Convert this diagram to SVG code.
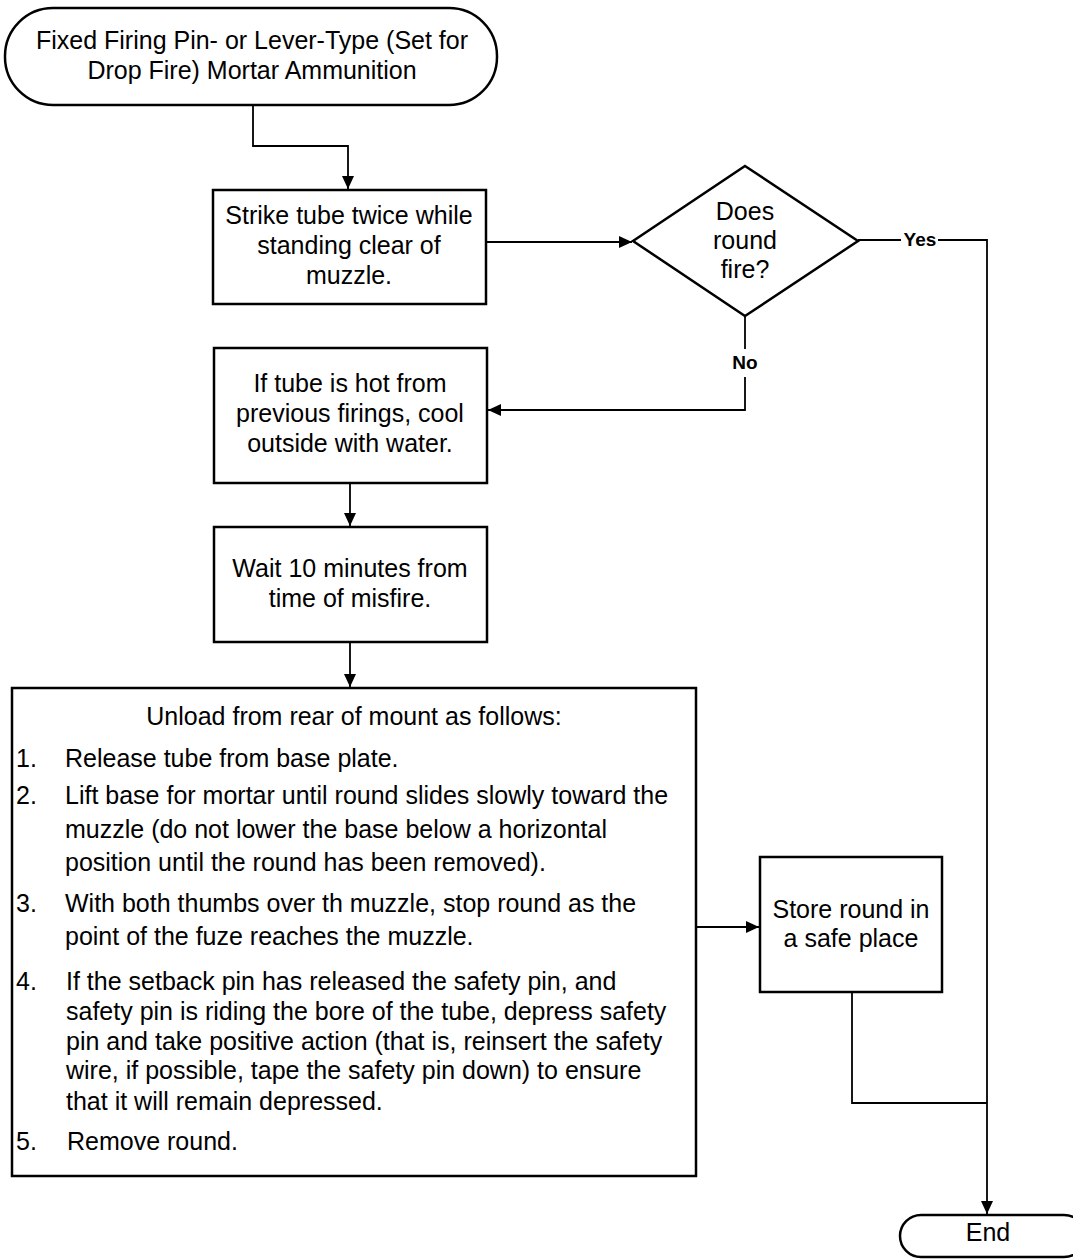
<svg xmlns="http://www.w3.org/2000/svg" width="1073" height="1259" viewBox="0 0 1073 1259">
<style>
.shape{fill:#fff;stroke:#000;stroke-width:2.5}
.conn{fill:none;stroke:#000;stroke-width:1.8}
.t{font-family:"Liberation Sans",Arial,sans-serif;font-size:25px;fill:#000;text-anchor:middle}
.l{font-family:"Liberation Sans",Arial,sans-serif;font-size:25px;fill:#000;text-anchor:start}
.lbl{font-family:"Liberation Sans",Arial,sans-serif;font-size:19px;font-weight:bold;fill:#000;text-anchor:middle}
</style>
<defs>
<marker id="arr" markerWidth="13" markerHeight="12" refX="13" refY="6" orient="auto" markerUnits="userSpaceOnUse">
<path d="M0,0 L13,6 L0,12 z" fill="#000"/>
</marker>
</defs>
<rect width="1073" height="1259" fill="#fff"/>

<g id="connectors">
<polyline class="conn" points="253,105 253,146 348,146 348,189" marker-end="url(#arr)"/>
<line class="conn" x1="486" y1="242" x2="632" y2="242" marker-end="url(#arr)"/>
<polyline class="conn" points="858,240 901,240"/>
<polyline class="conn" points="938,240 987,240 987,1214" marker-end="url(#arr)"/>
<line class="conn" x1="745" y1="316" x2="745" y2="349"/>
<polyline class="conn" points="745,377 745,410 488,410" marker-end="url(#arr)"/>
<line class="conn" x1="350" y1="483" x2="350" y2="526" marker-end="url(#arr)"/>
<line class="conn" x1="350" y1="642" x2="350" y2="687" marker-end="url(#arr)"/>
<line class="conn" x1="696" y1="927" x2="759" y2="927" marker-end="url(#arr)"/>
<polyline class="conn" points="852,992 852,1103 987,1103"/>
<text class="lbl" x="920" y="246">Yes</text>
<text class="lbl" x="745" y="369">No</text>
</g>

<g id="start">
<rect class="shape" x="5" y="8" width="492" height="97" rx="48" ry="48"/>
<text class="t" x="252" y="49">Fixed Firing Pin- or Lever-Type (Set for</text>
<text class="t" x="252" y="79">Drop Fire) Mortar Ammunition</text>
</g>

<g id="strike">
<rect class="shape" x="213" y="190" width="273" height="114"/>
<text class="t" x="349" y="224">Strike tube twice while</text>
<text class="t" x="349" y="254">standing clear of</text>
<text class="t" x="349" y="284">muzzle.</text>
</g>

<g id="decision">
<polygon class="shape" points="745,166 858,241 745,316 633,241"/>
<text class="t" x="745" y="220">Does</text>
<text class="t" x="745" y="249">round</text>
<text class="t" x="745" y="278">fire?</text>
</g>

<g id="cool">
<rect class="shape" x="214" y="348" width="273" height="135"/>
<text class="t" x="350" y="392">If tube is hot from</text>
<text class="t" x="350" y="422">previous firings, cool</text>
<text class="t" x="350" y="452">outside with water.</text>
</g>

<g id="wait">
<rect class="shape" x="214" y="527" width="273" height="115"/>
<text class="t" x="350" y="577">Wait 10 minutes from</text>
<text class="t" x="350" y="607">time of misfire.</text>
</g>

<g id="unload">
<rect class="shape" x="12" y="688" width="684" height="488"/>
<text class="t" x="354" y="725">Unload from rear of mount as follows:</text>
<text class="l" x="16" y="767">1.</text>
<text class="l" x="65" y="767">Release tube from base plate.</text>
<text class="l" x="16" y="804">2.</text>
<text class="l" x="65" y="804">Lift base for mortar until round slides slowly toward the</text>
<text class="l" x="65" y="838">muzzle (do not lower the base below a horizontal</text>
<text class="l" x="65" y="871">position until the round has been removed).</text>
<text class="l" x="16" y="912">3.</text>
<text class="l" x="65" y="912">With both thumbs over th muzzle, stop round as the</text>
<text class="l" x="65" y="945">point of the fuze reaches the muzzle.</text>
<text class="l" x="16" y="990">4.</text>
<text class="l" x="66" y="990">If the setback pin has released the safety pin, and</text>
<text class="l" x="66" y="1020">safety pin is riding the bore of the tube, depress safety</text>
<text class="l" x="66" y="1050">pin and take positive action (that is, reinsert the safety</text>
<text class="l" x="66" y="1079">wire, if possible, tape the safety pin down) to ensure</text>
<text class="l" x="66" y="1110">that it will remain depressed.</text>
<text class="l" x="16" y="1150">5.</text>
<text class="l" x="67" y="1150">Remove round.</text>
</g>

<g id="store">
<rect class="shape" x="760" y="857" width="182" height="135"/>
<text class="t" x="851" y="918">Store round in</text>
<text class="t" x="851" y="947">a safe place</text>
</g>

<g id="end">
<rect class="shape" x="900" y="1215" width="185" height="42" rx="21" ry="21"/>
<text class="t" x="988" y="1241">End</text>
</g>
</svg>
